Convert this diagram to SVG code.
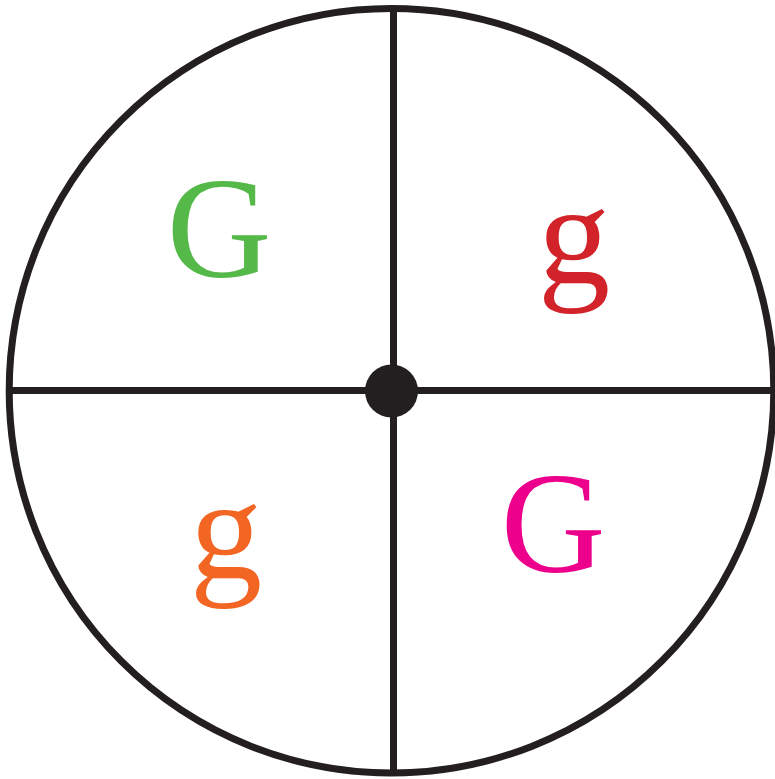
<svg xmlns="http://www.w3.org/2000/svg" width="775" height="779" viewBox="0 0 775 779">
<style>
.ln{stroke:#231f20;stroke-width:7;fill:none}
.lt{font-family:"Liberation Serif","Times New Roman",serif;font-size:145px;text-anchor:middle}
</style>
<rect width="775" height="779" fill="#fff"/>
<g id="connectors">
<line class="ln" x1="393.5" y1="8" x2="393.5" y2="773"/>
<line class="ln" x1="9" y1="390.5" x2="773" y2="390.5"/>
</g>
<g id="wheel"><circle class="ln" cx="391.5" cy="390.7" r="382.3"/></g>
<g id="hub"><circle cx="391.5" cy="391" r="26.5" fill="#231f20"/></g>
<g id="q1"><text class="lt" x="219" y="277" fill="#54b948">G</text></g>
<g id="q2"><text class="lt" x="574" y="283" fill="#d2232a">g</text></g>
<g id="q3"><text class="lt" x="226" y="578" fill="#f26522">g</text></g>
<g id="q4"><text class="lt" x="553" y="572" fill="#ec008c">G</text></g>
</svg>
